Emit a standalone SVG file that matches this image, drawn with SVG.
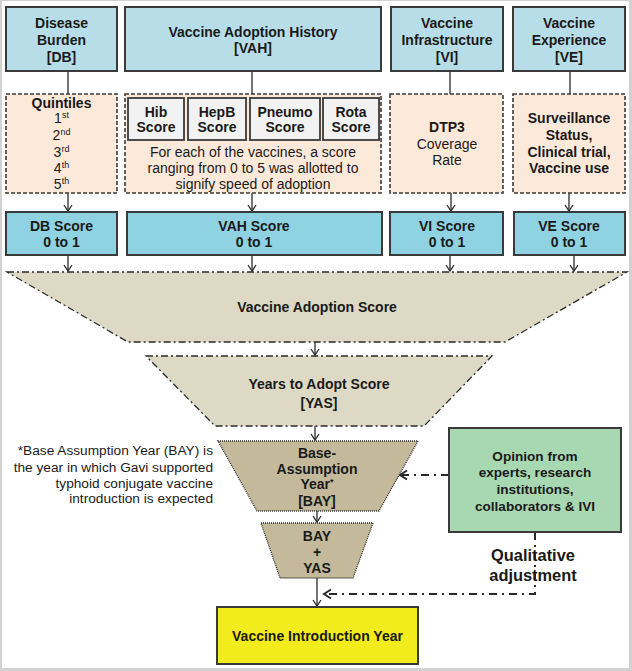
<svg xmlns="http://www.w3.org/2000/svg" width="632" height="671" viewBox="0 0 632 671">
<style>
text{font-family:"Liberation Sans",Arial,sans-serif;font-size:14px;fill:#1a1a1a;text-anchor:middle}
.b{font-weight:bold}
.top{fill:#b7dee8;stroke:#3a3a3a;stroke-width:2}
.score{fill:#8fd2e2;stroke:#3a3a3a;stroke-width:2}
.dash{fill:#fde9d9;stroke:#3a3a3a;stroke-width:1.6;stroke-dasharray:4 2}
.inner{fill:#f2f2f2;stroke:#3a3a3a;stroke-width:1.8}
.trapA{fill:#ddd9c4;stroke:#2a2a2a;stroke-width:1.3;stroke-dasharray:7 3 2 3}
.trapB{fill:#c4b99a;stroke:#2a2a2a;stroke-width:1.3;stroke-dasharray:1 1}
.ln{fill:none;stroke:#2a2a2a;stroke-width:1.3}
.dd{fill:none;stroke:#2a2a2a;stroke-width:2;stroke-dasharray:8 5 2 5}
.sup{font-size:9px}
.foot{text-anchor:end;font-size:13.7px}
</style>
<defs>
<marker id="arr" markerWidth="10" markerHeight="10" refX="8" refY="5" orient="auto" markerUnits="userSpaceOnUse">
<path d="M2,1 L8,5 L2,9" fill="none" stroke="#2a2a2a" stroke-width="1.3"/>
</marker>
<marker id="arr2" markerWidth="12" markerHeight="12" refX="9" refY="6" orient="auto" markerUnits="userSpaceOnUse">
<path d="M2,1.5 L9,6 L2,10.5" fill="none" stroke="#2a2a2a" stroke-width="2"/>
</marker>
</defs>
<rect x="0" y="0" width="632" height="671" fill="#d2d2d2"/>
<rect x="2" y="1" width="627" height="667" fill="#ffffff"/>

<g id="connectors">
<line class="ln" x1="68" y1="71" x2="68" y2="94"/>
<line class="ln" x1="252" y1="71" x2="252" y2="94"/>
<line class="ln" x1="450" y1="71" x2="450" y2="94"/>
<line class="ln" x1="570" y1="71" x2="570" y2="94"/>
<line class="ln" x1="68" y1="193" x2="68" y2="211" marker-end="url(#arr)"/>
<line class="ln" x1="252" y1="193" x2="252" y2="211" marker-end="url(#arr)"/>
<line class="ln" x1="451" y1="193" x2="451" y2="211" marker-end="url(#arr)"/>
<line class="ln" x1="569" y1="193" x2="569" y2="211" marker-end="url(#arr)"/>
<line class="ln" x1="68" y1="255" x2="68" y2="271" marker-end="url(#arr)"/>
<line class="ln" x1="252" y1="255" x2="252" y2="271" marker-end="url(#arr)"/>
<line class="ln" x1="450" y1="255" x2="450" y2="271" marker-end="url(#arr)"/>
<line class="ln" x1="574" y1="255" x2="574" y2="271" marker-end="url(#arr)"/>
<line class="ln" x1="315" y1="342" x2="315" y2="355" marker-end="url(#arr)"/>
<line class="ln" x1="315" y1="426" x2="315" y2="440" marker-end="url(#arr)"/>
<line class="ln" x1="317" y1="511" x2="317" y2="522" marker-end="url(#arr)"/>
<line class="ln" x1="317" y1="578" x2="317" y2="606" marker-end="url(#arr)"/>
<line class="dd" x1="449" y1="475" x2="400" y2="475" marker-end="url(#arr2)"/>
<polyline class="dd" points="535,532 535,594 324,594" marker-end="url(#arr2)"/>
</g>

<g id="db">
<rect class="top" x="6" y="7" width="111" height="64"/>
<text class="b" x="61.5" y="28">Disease</text>
<text class="b" x="61.5" y="45">Burden</text>
<text class="b" x="61.5" y="62">[DB]</text>
</g>
<g id="vah">
<rect class="top" x="125" y="7" width="256" height="64"/>
<text class="b" x="253" y="37">Vaccine Adoption History</text>
<text class="b" x="253" y="53">[VAH]</text>
</g>
<g id="vi">
<rect class="top" x="391" y="7" width="112" height="64"/>
<text class="b" x="447" y="28">Vaccine</text>
<text class="b" x="447" y="45">Infrastructure</text>
<text class="b" x="447" y="62">[VI]</text>
</g>
<g id="ve">
<rect class="top" x="513" y="7" width="112" height="64"/>
<text class="b" x="569" y="28">Vaccine</text>
<text class="b" x="569" y="45">Experience</text>
<text class="b" x="569" y="62">[VE]</text>
</g>

<g id="quintiles">
<rect class="dash" x="6" y="94" width="111" height="99"/>
<text class="b" x="61.5" y="108">Quintiles</text>
<text x="61.5" y="123">1<tspan class="sup" dy="-5">st</tspan></text>
<text x="61.5" y="140">2<tspan class="sup" dy="-5">nd</tspan></text>
<text x="61.5" y="157">3<tspan class="sup" dy="-5">rd</tspan></text>
<text x="61.5" y="173">4<tspan class="sup" dy="-5">th</tspan></text>
<text x="61.5" y="189">5<tspan class="sup" dy="-5">th</tspan></text>
</g>
<g id="vah-detail">
<rect class="dash" x="125" y="94" width="256" height="99"/>
<g id="hib"><rect class="inner" x="128" y="98" width="56" height="42"/>
<text class="b" x="156" y="117">Hib</text><text class="b" x="156" y="132">Score</text></g>
<g id="hepb"><rect class="inner" x="188" y="98" width="58" height="42"/>
<text class="b" x="217" y="117">HepB</text><text class="b" x="217" y="132">Score</text></g>
<g id="pneumo"><rect class="inner" x="250" y="98" width="70" height="42"/>
<text class="b" x="285" y="117">Pneumo</text><text class="b" x="285" y="132">Score</text></g>
<g id="rota"><rect class="inner" x="323" y="98" width="56" height="42"/>
<text class="b" x="351" y="117">Rota</text><text class="b" x="351" y="132">Score</text></g>
<text x="253" y="157">For each of the vaccines, a score</text>
<text x="253" y="173">ranging from 0 to 5 was allotted to</text>
<text x="253" y="189">signify speed of adoption</text>
</g>
<g id="dtp3">
<rect class="dash" x="390" y="94" width="113" height="99"/>
<text class="b" x="447" y="132">DTP3</text>
<text x="447" y="149">Coverage</text>
<text x="447" y="165">Rate</text>
</g>
<g id="ve-detail">
<rect class="dash" x="513" y="94" width="112" height="99"/>
<text class="b" x="569" y="123">Surveillance</text>
<text class="b" x="569" y="140">Status,</text>
<text class="b" x="569" y="157">Clinical trial,</text>
<text class="b" x="569" y="173">Vaccine use</text>
</g>

<g id="db-score">
<rect class="score" x="6" y="212" width="111" height="43"/>
<text class="b" x="61.5" y="231">DB Score</text>
<text class="b" x="61.5" y="247">0 to 1</text>
</g>
<g id="vah-score">
<rect class="score" x="127" y="212" width="255" height="43"/>
<text class="b" x="254" y="231">VAH Score</text>
<text class="b" x="254" y="247">0 to 1</text>
</g>
<g id="vi-score">
<rect class="score" x="390" y="212" width="113" height="43"/>
<text class="b" x="447" y="231">VI Score</text>
<text class="b" x="447" y="247">0 to 1</text>
</g>
<g id="ve-score">
<rect class="score" x="514" y="212" width="111" height="43"/>
<text class="b" x="569" y="231">VE Score</text>
<text class="b" x="569" y="247">0 to 1</text>
</g>

<g id="adoption-score">
<polygon class="trapA" points="7,272 627,272 505,342 128,342"/>
<text class="b" x="317" y="312">Vaccine Adoption Score</text>
</g>
<g id="yas">
<polygon class="trapA" points="146,356 492,356 424,426 215,426"/>
<text class="b" x="319" y="389">Years to Adopt Score</text>
<text class="b" x="319" y="408">[YAS]</text>
</g>
<g id="bay">
<polygon class="trapB" points="218,441 418,441 379,511 257,511"/>
<text class="b" x="317" y="458">Base-</text>
<text class="b" x="317" y="473.5">Assumption</text>
<text class="b" x="317" y="489">Year<tspan class="sup" dy="-4">*</tspan></text>
<text class="b" x="317" y="506">[BAY]</text>
</g>
<g id="bay-yas">
<polygon class="trapB" points="261,523 373,523 353,578 280,578"/>
<text class="b" x="317" y="541">BAY</text>
<text class="b" x="317" y="557">+</text>
<text class="b" x="317" y="573">YAS</text>
</g>
<g id="footnote">
<text class="foot" x="213" y="455">*Base Assumption Year (BAY) is</text>
<text class="foot" x="213" y="472">the year in which Gavi supported</text>
<text class="foot" x="213" y="488">typhoid conjugate vaccine</text>
<text class="foot" x="213" y="503">introduction is expected</text>
</g>
<g id="opinion">
<rect x="449" y="428" width="172" height="104" fill="#a8d8b1" stroke="#3a3a3a" stroke-width="2"/>
<text class="b" x="535" y="461" style="font-size:13.6px">Opinion from</text>
<text class="b" x="535" y="477" style="font-size:13.6px">experts, research</text>
<text class="b" x="535" y="494" style="font-size:13.6px">institutions,</text>
<text class="b" x="535" y="511" style="font-size:13.6px">collaborators &amp; IVI</text>
</g>
<g id="qualitative">
<text class="b" x="533" y="561" style="font-size:16.4px">Qualitative</text>
<text class="b" x="533" y="581" style="font-size:16.4px">adjustment</text>
</g>
<g id="intro-year">
<rect x="217" y="607" width="201" height="57" fill="#f3ec1c" stroke="#3a3a3a" stroke-width="2"/>
<text class="b" x="317.5" y="641">Vaccine Introduction Year</text>
</g>
</svg>
